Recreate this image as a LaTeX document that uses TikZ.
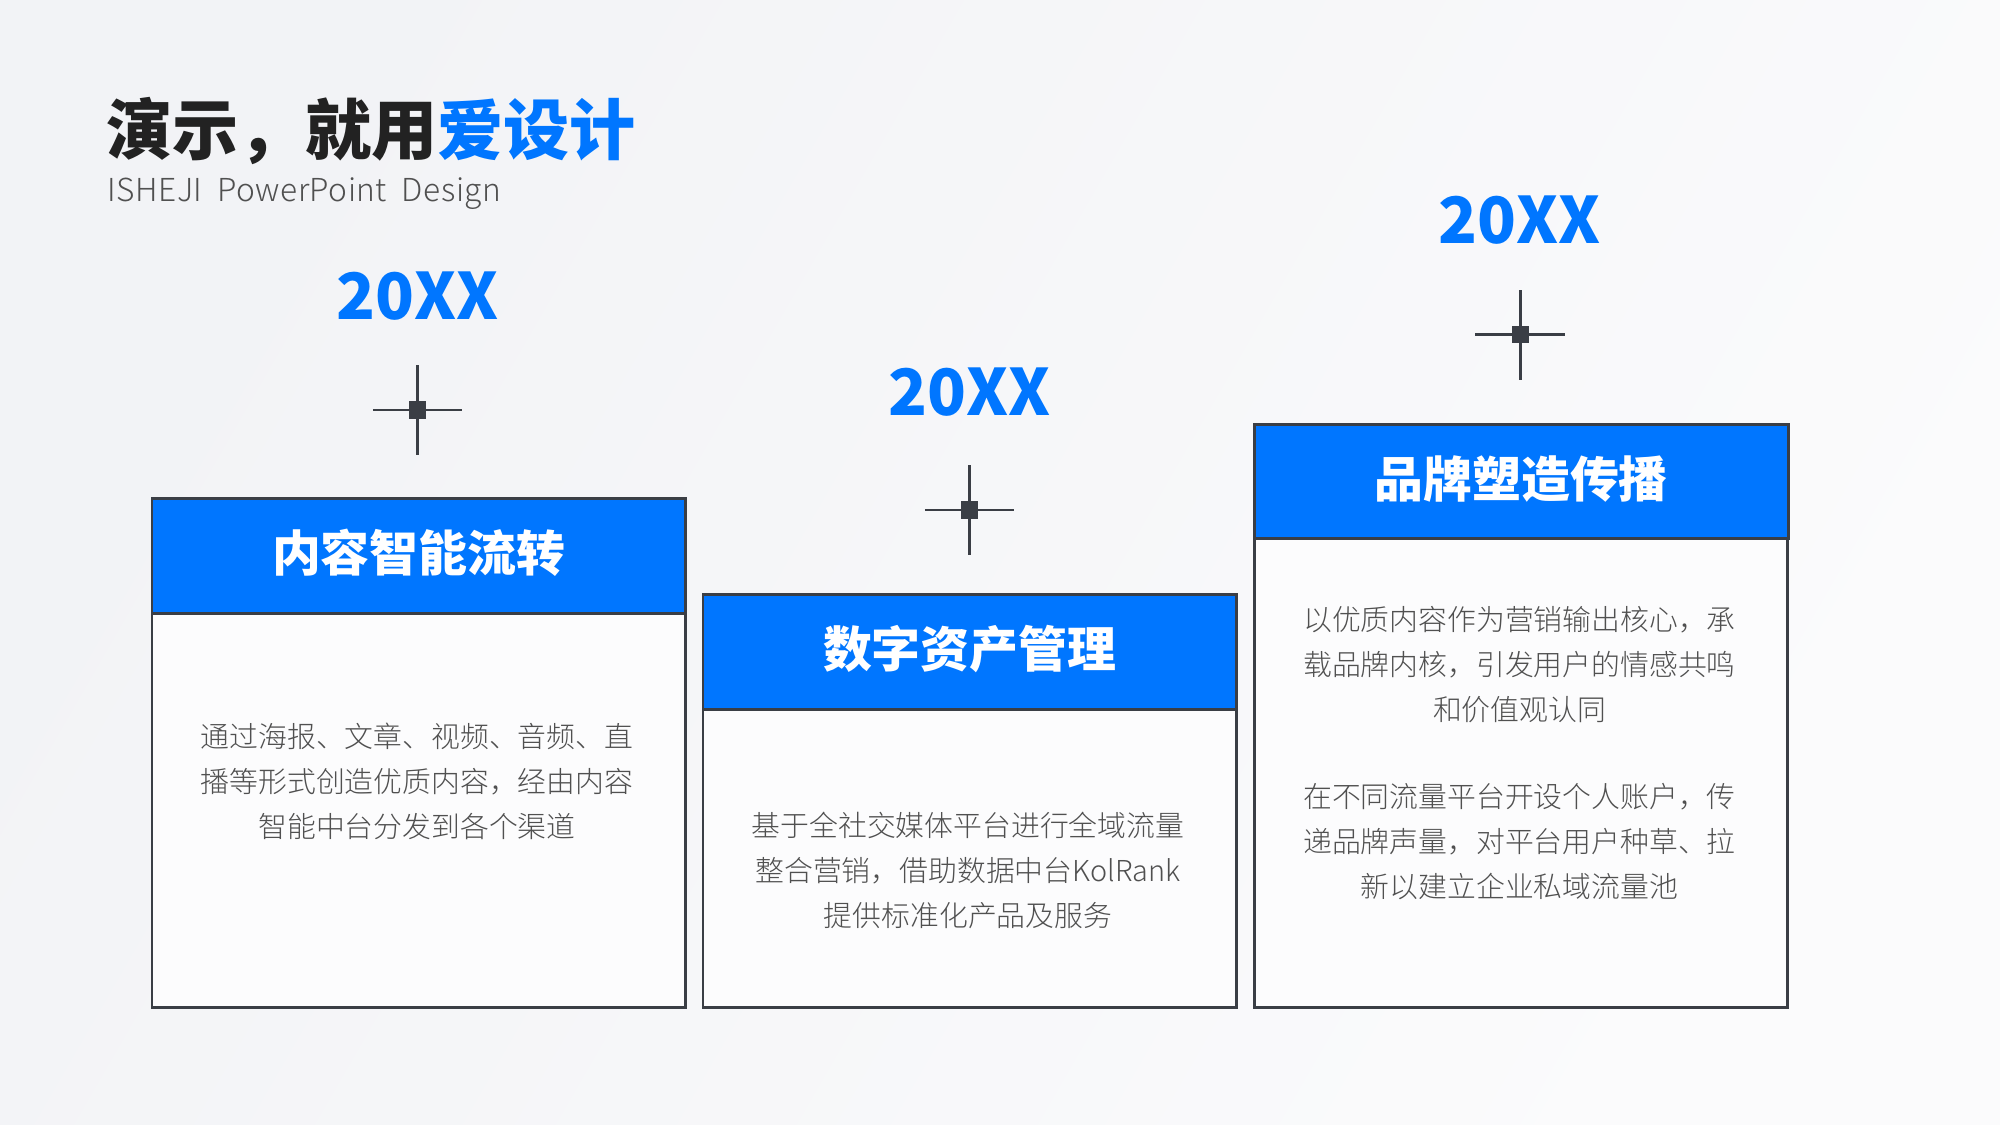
\documentclass[tikz,border=0pt]{standalone}
\usepackage{fontspec}
\setmainfont{Noto Sans CJK SC}
\IfFontExistsTF{Noto Sans CJK SC Light}{\newfontfamily\lightf{Noto Sans CJK SC Light}}{\IfFontExistsTF{Noto Sans CJK SC DemiLight}{\newfontfamily\lightf{Noto Sans CJK SC DemiLight}}{\newfontfamily\lightf{Noto Sans CJK SC}}}
\definecolor{blu}{HTML}{0076FF}
\definecolor{bordc}{HTML}{3A3E45}
\definecolor{txtg}{HTML}{505050}
\definecolor{ttl}{HTML}{222222}
\definecolor{bgA}{HTML}{F2F3F6}
\definecolor{bgB}{HTML}{FBFBFC}
\definecolor{bodyc}{HTML}{FCFCFD}
\begin{document}
\begin{tikzpicture}[x=0.01cm,y=-0.01cm,
  hdr/.style={draw=bordc, line width=0.85pt, fill=blu, minimum width=5.33cm, minimum height=1.15cm, anchor=north west, inner sep=0pt},
  hdrtext/.style={text=white, font=\bfseries\fontsize{13.9}{16}\selectfont, inner sep=0pt, yshift=0.03cm},
  bodybox/.style={draw=bordc, line width=0.85pt, fill=bodyc, minimum width=5.33cm, anchor=north west, inner sep=0pt},
  bodytext/.style={text=txtg, font=\lightf\fontsize{8.2}{12.8}\selectfont, align=center, inner sep=0pt},
  year/.style={text=blu, font=\bfseries\fontsize{18.2}{20}\selectfont, inner sep=0pt, anchor=base},
  sq/.style={fill=bordc, minimum size=0.17cm, inner sep=0pt},
  cross/.style={draw=bordc, line width=0.85pt}
]
\shade[left color=bgA, right color=bgB, shading angle=60] (0,0) rectangle (2000,1125);
\useasboundingbox (0,0) rectangle (2000,1125);

% title
\node[anchor=west, inner sep=0pt, font=\bfseries\fontsize{18.8}{20}\selectfont, text=ttl] (title) at (106,131) {演示，就用\textcolor{blu}{爱设计}};
\node[anchor=west, inner sep=0pt, font=\lightf\fontsize{9}{11}\selectfont\addfontfeature{LetterSpace=1.5}, text=txtg] (sub) at (107,194) {ISHEJI\ \ PowerPoint\ \ Design};

% box 1
\node[bodybox, minimum height=3.94cm] (b1) at (150.5,612) {};
\node[hdr] (h1) at (150.5,497) {};
\node[hdrtext] (h1t) at (h1.center) {内容智能流转};
\node[bodytext] (t1) at (417,781) {通过海报、文章、视频、音频、直\\播等形式创造优质内容，经由内容\\智能中台分发到各个渠道};
\node[sq] (c1) at (417.5,410) {};
\draw[cross] ([xshift=-0.445cm]c1.center) -- ([xshift=0.445cm]c1.center);
\draw[cross] ([yshift=0.445cm]c1.center) -- ([yshift=-0.445cm]c1.center);
\node[year] (y1) at (417.5,320) {20XX};

% box 2
\node[bodybox, minimum height=2.98cm] (b2) at (701.5,708) {};
\node[hdr] (h2) at (701.5,593) {};
\node[hdrtext] (h2t) at (h2.center) {数字资产管理};
\node[bodytext] (t2) at (968,870) {基于全社交媒体平台进行全域流量\\整合营销，借助数据中台KolRank\\提供标准化产品及服务};
\node[sq] (c2) at (969.5,510) {};
\draw[cross] ([xshift=-0.445cm]c2.center) -- ([xshift=0.445cm]c2.center);
\draw[cross] ([yshift=0.445cm]c2.center) -- ([yshift=-0.445cm]c2.center);
\node[year] (y2) at (969.5,416) {20XX};

% box 3
\node[bodybox, minimum height=4.69cm] (b3) at (1252.5,537) {};
\node[hdr, minimum width=5.34cm, minimum height=1.14cm] (h3) at (1252.5,423) {};
\node[hdrtext] (h3t) at (h3.center) {品牌塑造传播};
\node[bodytext] (t3a) at (1519.5,665) {以优质内容作为营销输出核心，承\\载品牌内核，引发用户的情感共鸣\\和价值观认同};
\node[bodytext] (t3b) at (1519.5,842) {在不同流量平台开设个人账户，传\\递品牌声量，对平台用户种草、拉\\新以建立企业私域流量池};
\node[sq] (c3) at (1520,335) {};
\draw[cross] ([xshift=-0.445cm]c3.center) -- ([xshift=0.445cm]c3.center);
\draw[cross] ([yshift=0.445cm]c3.center) -- ([yshift=-0.445cm]c3.center);
\node[year] (y3) at (1520,244) {20XX};
\end{tikzpicture}
\end{document}
